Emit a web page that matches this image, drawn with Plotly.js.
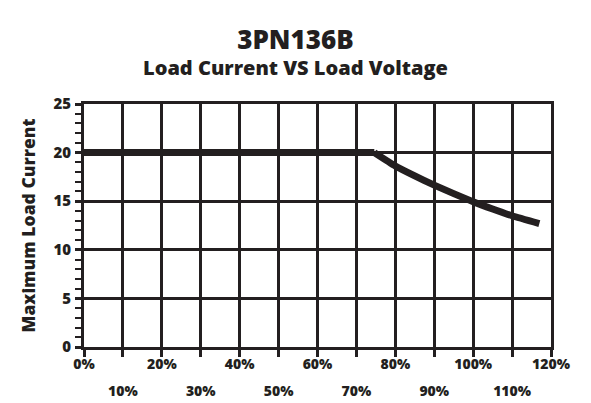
<!DOCTYPE html>
<html>
<head>
<meta charset="utf-8">
<script src="https://cdn.plot.ly/plotly-3.0.1.min.js"></script>
<style>
html,body{margin:0;padding:0;background:#fff;}
#chart{width:591px;height:403px;}
</style>
</head>
<body>
<div id="chart"></div>
<script>
// Data
const flatPct     = [0, 74.6];
const flatCurrent = [20, 20];
const curvePct     = [74.6, 80, 85, 90, 95, 100, 105, 110, 117];
const curveCurrent = [20, 18.62, 17.6, 16.65, 15.78, 14.95, 14.2, 13.5, 12.7];

const evenTicks = [0, 20, 40, 60, 80, 100, 120];
const evenLabels = ['0%', '20%', '40%', '60%', '80%', '100%', '120%'];
const oddTicks = [10, 30, 50, 70, 90, 110];
const oddLabels = ['10%', '30%', '50%', '70%', '90%', '110%'];
const allTicks = [0, 10, 20, 30, 40, 50, 60, 70, 80, 90, 100, 110, 120];
const yTicks = [0, 5, 10, 15, 20, 25];

const titleText = '3PN136B';
const subtitleText = 'Load Current VS Load Voltage';
const yTitle = 'Maximum Load Current';

const ink = '#231f20';
const fontFam = '"Open Sans", "DejaVu Sans", sans-serif';
const labelFont = {family: fontFam, size: 14, color: ink, weight: 800};

const flat = {
  x: flatPct, y: flatCurrent, xaxis: 'x', yaxis: 'y',
  mode: 'lines', line: {color: ink, width: 7}, hoverinfo: 'skip', showlegend: false
};
const curve = {
  x: curvePct, y: curveCurrent, xaxis: 'x', yaxis: 'y',
  mode: 'lines', line: {color: ink, width: 7, shape: 'spline', smoothing: 0.5}, hoverinfo: 'skip', showlegend: false
};
const dummy2 = {x: [0, 120], y: [null, null], xaxis: 'x2', yaxis: 'y', mode: 'lines', showlegend: false, hoverinfo: 'skip'};
const dummy3 = {x: [0, 120], y: [null, null], xaxis: 'x3', yaxis: 'y', mode: 'lines', showlegend: false, hoverinfo: 'skip'};

const layout = {
  width: 591, height: 403,
  margin: {l: 84, r: 40, t: 104, b: 56},
  paper_bgcolor: '#fff', plot_bgcolor: '#fff',
  font: {family: fontFam, color: ink, size: 14, weight: 800},
  title: {
    text: '<span style="font-size:26px">' + titleText + '</span><br>' + subtitleText,
    x: 0.5, xanchor: 'center', y: 0.878, yanchor: 'top',
    font: {family: fontFam, color: ink, weight: 800, size: 20}
  },
  xaxis: {
    range: [0, 120], tickvals: allTicks, showticklabels: false,
    ticks: 'outside', ticklen: 7, tickwidth: 3, tickcolor: ink,
    showline: true, linewidth: 3, linecolor: ink, mirror: true,
    showgrid: true, gridcolor: ink, gridwidth: 3, zeroline: false,
    fixedrange: true
  },
  xaxis2: {
    overlaying: 'x', anchor: 'y', side: 'bottom', range: [0, 120],
    tickvals: oddTicks, ticktext: oddLabels, ticks: '', showgrid: false, showline: false,
    zeroline: false, ticklabelstandoff: 34, tickfont: labelFont, fixedrange: true
  },
  xaxis3: {
    overlaying: 'x', anchor: 'y', side: 'bottom', range: [0, 120],
    tickvals: evenTicks, ticktext: evenLabels, ticks: '', showgrid: false, showline: false,
    zeroline: false, ticklabelstandoff: 7, tickfont: labelFont, fixedrange: true
  },
  yaxis: {
    range: [0, 25], tickvals: yTicks,
    ticks: 'outside', ticklen: 6, tickwidth: 3, tickcolor: ink,
    minor: {dtick: 1, ticks: 'outside', ticklen: 6, tickwidth: 2, tickcolor: ink, showgrid: false},
    showline: true, linewidth: 3, linecolor: ink, mirror: true,
    showgrid: true, gridcolor: ink, gridwidth: 3, zeroline: false,
    tickfont: {family: fontFam, size: 15, color: ink, weight: 800},
    ticklabelstandoff: 1,
    title: {text: yTitle, font: {family: fontFam, size: 17.5, color: ink, weight: 800}, standoff: 14},
    fixedrange: true
  }
};

Plotly.newPlot('chart', [dummy2, dummy3, flat, curve], layout, {displayModeBar: false, staticPlot: true});
</script>
</body>
</html>
